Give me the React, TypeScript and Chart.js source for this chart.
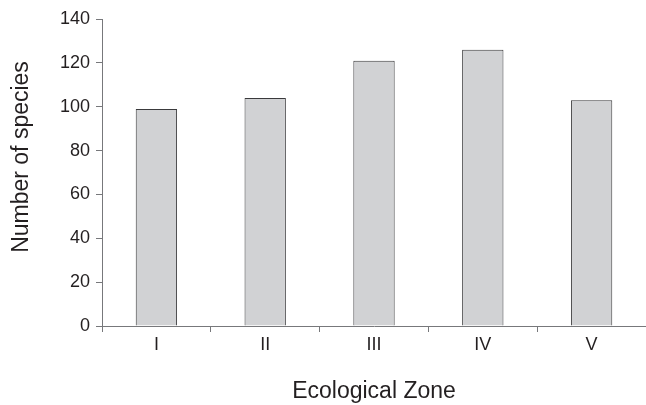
import React, { useEffect, useRef } from "react";
import { Chart, registerables } from "chart.js";

Chart.register(...registerables);

const zones = ["I", "II", "III", "IV", "V"];
const speciesCounts = [99, 104, 121, 126, 103];
const yMin = 0;
const yMax = 140;
const yStep = 20;
const yTitle = "Number of species";
const xTitle = "Ecological Zone";

const FONT = "'Liberation Sans', Arial, Helvetica, sans-serif";
const TEXT = "#231f20";
const AXIS = "#77787b";

const yTitlePlugin = {
  id: "yTitlePlugin",
  afterDraw(chart: any) {
    const ctx = chart.ctx;
    ctx.save();
    ctx.translate(28, 157);
    ctx.rotate(-Math.PI / 2);
    ctx.font = `23px ${FONT}`;
    ctx.fillStyle = TEXT;
    ctx.textAlign = "center";
    ctx.textBaseline = "alphabetic";
    ctx.fillText(yTitle, 0, 0);
    ctx.restore();
  },
};

export default function App() {
  const ref = useRef<HTMLCanvasElement | null>(null);

  useEffect(() => {
    if (!ref.current) return;
    const chart = new Chart(ref.current, {
      type: "bar",
      data: {
        labels: zones,
        datasets: [
          {
            data: speciesCounts,
            backgroundColor: "#d1d2d4",
            borderColor: "#3a3a3c",
            borderWidth: 1,
            categoryPercentage: 1,
            barPercentage: 0.38,
          },
        ],
      },
      plugins: [yTitlePlugin],
      options: {
        animation: false,
        responsive: false,
        devicePixelRatio: 1,
        layout: { padding: { top: 19, right: 0, bottom: 0, left: 0 } },
        plugins: {
          legend: { display: false },
          tooltip: { enabled: false },
          title: { display: false },
        },
        scales: {
          x: {
            type: "category",
            offset: true,
            grid: {
              offset: true,
              drawOnChartArea: false,
              drawTicks: true,
              tickLength: 6,
              color: AXIS,
              lineWidth: 1,
            },
            border: { display: true, color: AXIS, width: 1 },
            ticks: {
              color: TEXT,
              font: { family: FONT, size: 18 },
              padding: 2,
              maxRotation: 0,
            },
            title: {
              display: true,
              text: xTitle,
              color: TEXT,
              font: { family: FONT, size: 23 },
              padding: { top: 0, bottom: 0 },
            },
            afterFit: (scale: any) => {
              scale.height = 79;
            },
          },
          y: {
            min: yMin,
            max: yMax,
            grid: {
              drawOnChartArea: false,
              drawTicks: true,
              tickLength: 6,
              color: AXIS,
              lineWidth: 1,
            },
            border: { display: true, color: AXIS, width: 1 },
            ticks: {
              stepSize: yStep,
              color: TEXT,
              font: { family: FONT, size: 18 },
              padding: 6,
            },
            title: { display: false },
            afterFit: (scale: any) => {
              scale.width = 102;
            },
          },
        },
      },
    });
    return () => chart.destroy();
  }, []);

  return (
    <div style={{ position: "fixed", left: 0, top: 0, width: 646, height: 405, background: "#ffffff" }}>
      <canvas ref={ref} width={646} height={405} style={{ width: 646, height: 405, display: "block" }} />
    </div>
  );
}
